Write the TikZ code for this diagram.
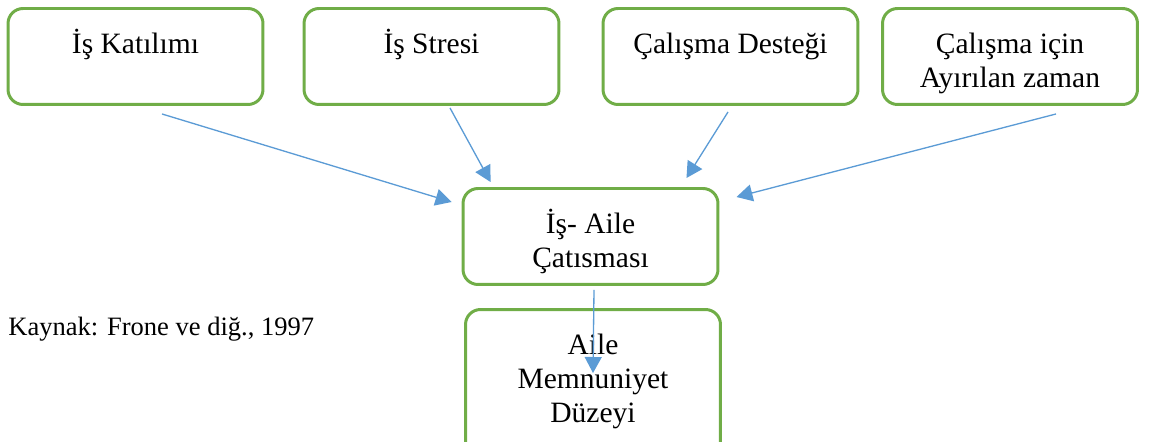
\documentclass[tikz,border=0pt]{standalone}
\usepackage{fontspec}
\setmainfont{Liberation Serif}
\usetikzlibrary{arrows.meta,calc}
\definecolor{boxline}{HTML}{70AD47}
\definecolor{arrowcol}{HTML}{5B9BD5}
\newcommand{\bt}[1]{\parbox[t]{4.8cm}{\centering #1}}

\begin{document}
\begin{tikzpicture}[
  x=0.02cm, y=-0.02cm,
  box/.style={
    draw=boxline, line width=1.7pt, rounded corners=0.3cm,
    minimum width=5.1cm, inner sep=0pt, anchor=north,
    text height=0.9cm, text depth=1.02cm,
    font=\fontsize{16.8}{19.4}\selectfont
  },
  flow/.style={-{Triangle[length=0.32cm,width=0.34cm]}, line width=0.75pt, draw=arrowcol},
  src/.style={font=\fontsize{15.1}{18}\selectfont, anchor=base west, inner sep=0pt}
]
\useasboundingbox (0,0) rectangle (1149,441);

%% ---------- top row ----------
\node[box] (kat) at (135.5,7) {\bt{İş Katılımı}};
\node[box] (str) at (431.5,7) {\bt{İş Stresi}};
\node[box] (des) at (730.5,7) {\bt{Çalışma Desteği}};
\node[box] (zam) at (1010,7) {\bt{Çalışma için\\Ayırılan zaman}};

%% ---------- middle and bottom ----------
\node[box] (cat) at (590.5,187) {\bt{İş- Aile\\Çatısması}};
\node[box, text depth=2.14cm] (mem) at (593,308) {\bt{Aile\\Memnuniyet\\Düzeyi}};

\node[src] (kay) at (8,335) {Kaynak: Frone ve diğ., 1997};

%% ---------- arrows ----------
\draw[flow] ([shift={(26.5,8)}]kat.south) -- ([shift={(-10,15)}]cat.north west);
\draw[flow] ([shift={(18.5,2)}]str.south) -- ([shift={(29,-5)}]cat.north west);
\draw[flow] ([shift={(-2.5,6)}]des.south) -- ([shift={(-33,-9)}]cat.north east);
\draw[flow] ([shift={(46,8)}]zam.south) -- ([shift={(17,10)}]cat.north east);
\draw[flow] ([shift={(3.5,4)}]cat.south) -- ([shift={(0,65)}]mem.north);

\end{tikzpicture}
\end{document}
